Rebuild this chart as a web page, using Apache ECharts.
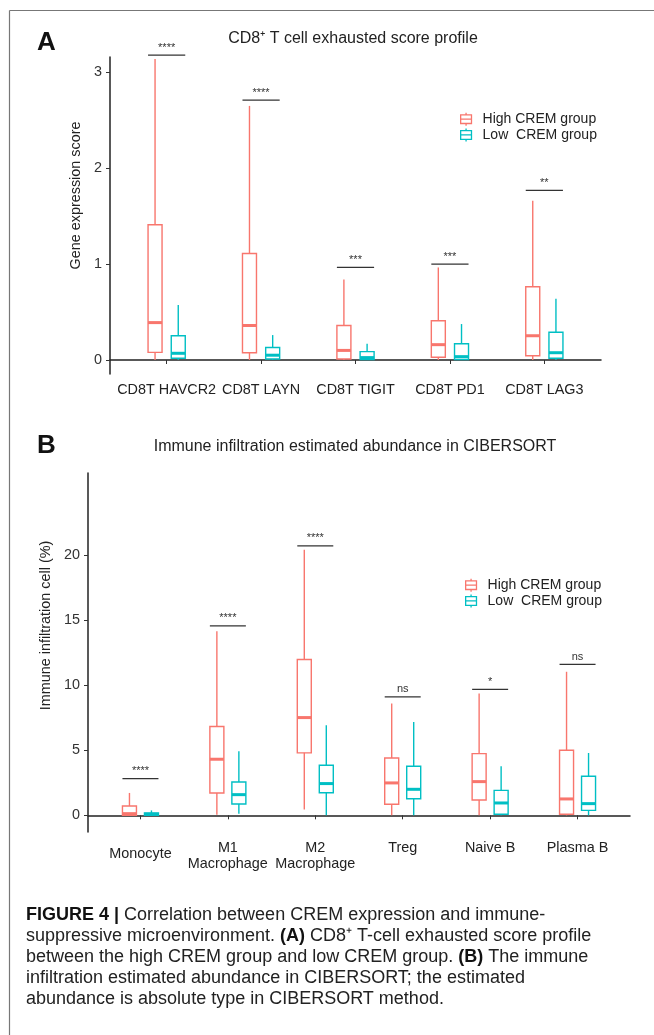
<!DOCTYPE html>
<html><head><meta charset="utf-8">
<script src="https://cdn.jsdelivr.net/npm/echarts@6/dist/echarts.min.js"></script>
<style>html,body{margin:0;padding:0;background:#fff}#c{width:654px;height:1035px}</style>
</head><body><div id="c"></div>
<script>
// ---------- data ----------
const catsA = ['CD8T HAVCR2', 'CD8T LAYN', 'CD8T TIGIT', 'CD8T PD1', 'CD8T LAG3'];
// [min, Q1, median, Q3, max]
const highA = [[0, 0.08, 0.39, 1.41, 3.14], [0, 0.076, 0.36, 1.11, 2.65], [0, 0.01, 0.10, 0.36, 0.84], [0, 0.028, 0.16, 0.41, 0.965], [0, 0.045, 0.253, 0.764, 1.66]];
const lowA = [[0, 0.018, 0.07, 0.253, 0.573], [0, 0.01, 0.05, 0.13, 0.26], [0, 0.005, 0.025, 0.087, 0.17], [0, 0.005, 0.035, 0.17, 0.375], [0, 0.018, 0.076, 0.29, 0.64]];
const sigA = [3.18, 2.71, 0.965, 1.0, 1.77];
const sigLabA = ['****', '****', '***', '***', '**'];
const yTicksA = [0, 1, 2, 3];

const catsB = ['Monocyte', 'M1\nMacrophage', 'M2\nMacrophage', 'Treg', 'Naive B', 'Plasma B'];
const highB = [[0, 0, 0.13, 0.72, 1.72], [0.05, 1.72, 4.31, 6.82, 14.15], [0.44, 4.8, 7.51, 11.97, 20.4], [0, 0.85, 2.49, 4.41, 8.59], [0, 1.18, 2.59, 4.74, 9.36], [0, 0.08, 1.26, 5.0, 11.03]];
const lowB = [[0, 0, 0.08, 0.18, 0.38], [0.13, 0.87, 1.59, 2.56, 4.92], [0, 1.74, 2.44, 3.85, 6.92], [0, 1.28, 2.0, 3.77, 7.18], [0, 0.08, 0.95, 1.92, 3.77], [0, 0.38, 0.9, 3.0, 4.79]];
const sigB = [2.82, 14.56, 20.7, 9.1, 9.67, 11.6];
const sigLabB = ['****', '****', '****', 'ns', '*', 'ns'];
const yTicksB = [0, 5, 10, 15, 20];

const seriesNames = ['High CREM group', 'Low  CREM group'];

// ---------- style ----------
const RED = '#F8766D', TEAL = '#00BFC4';
const FONT = 'Liberation Sans, Arial, sans-serif';
const BOX_W = 14;
const DODGE_A = 11.6, DODGE_B = 11;
const BOX_ICON = 'path://M5,0L5,2M0,2L10,2L10,10L0,10ZM0,6L10,6M5,10L5,12';
const AX_FS = 14.4;

function toRows(arr) { return arr.map((r, i) => [i + 1].concat(r)); }

function boxRender(dx, color) {
  return function (params, api) {
    const x = api.value(0);
    const pMin = api.coord([x, api.value(1)]);
    const pQ1 = api.coord([x, api.value(2)]);
    const pMed = api.coord([x, api.value(3)]);
    const pQ3 = api.coord([x, api.value(4)]);
    const pMax = api.coord([x, api.value(5)]);
    const cx = pMin[0] + dx, hw = BOX_W / 2;
    const ls = { stroke: color, lineWidth: 1.4, fill: null };
    return {
      type: 'group', children: [
        { type: 'line', shape: { x1: cx, y1: pMax[1], x2: cx, y2: pQ3[1] }, style: ls },
        { type: 'line', shape: { x1: cx, y1: pQ1[1], x2: cx, y2: pMin[1] }, style: ls },
        { type: 'rect', shape: { x: cx - hw, y: pQ3[1], width: 2 * hw, height: Math.max(pQ1[1] - pQ3[1], 0.5) }, style: { stroke: color, lineWidth: 1.4, fill: 'rgba(0,0,0,0)' } },
        { type: 'line', shape: { x1: cx - hw, y1: pMed[1], x2: cx + hw, y2: pMed[1] }, style: { stroke: color, lineWidth: 3 } }
      ]
    };
  };
}

function sigRender(labels, hw) {
  return function (params, api) {
    const p = api.coord([api.value(0), api.value(1)]);
    return {
      type: 'group', children: [
        { type: 'line', shape: { x1: p[0] - hw, y1: p[1], x2: p[0] + hw, y2: p[1] }, style: { stroke: '#333', lineWidth: 1.3 } },
        { type: 'text', style: { text: labels[params.dataIndex], x: p[0], y: p[1] - 2, align: 'center', verticalAlign: 'bottom', fontSize: 11, fill: '#333', fontFamily: FONT } }
      ]
    };
  };
}

function legendFor(top, left) {
  return {
    orient: 'vertical', left: left, top: top, itemWidth: 11, itemHeight: 13, itemGap: 1.5,
    textStyle: { fontSize: 14, color: '#222', fontFamily: FONT, padding: [0, 0, 0, 6] },
    data: [
      { name: seriesNames[0], icon: BOX_ICON, itemStyle: { color: 'rgba(0,0,0,0)', borderColor: RED, borderWidth: 1.3 } },
      { name: seriesNames[1], icon: BOX_ICON, itemStyle: { color: 'rgba(0,0,0,0)', borderColor: TEAL, borderWidth: 1.3 } }
    ]
  };
}

const axisLineStyle = { color: '#222', width: 1.5 };

const option = {
  animation: false,
  backgroundColor: '#fff',
  textStyle: { fontFamily: FONT },
  title: [
    { text: 'A', left: 32, top: 25, textStyle: { fontSize: 26, fontWeight: 'bold', color: '#111', fontFamily: FONT } },
    { text: 'CD8\u207A T cell exhausted score profile', left: 348, top: 26, textAlign: 'center', textStyle: { fontSize: 16, fontWeight: 'normal', color: '#222', fontFamily: FONT } },
    { text: 'B', left: 32, top: 428, textStyle: { fontSize: 26, fontWeight: 'bold', color: '#111', fontFamily: FONT } },
    { text: 'Immune infiltration estimated abundance in CIBERSORT', left: 350, top: 434, textAlign: 'center', textStyle: { fontSize: 16, fontWeight: 'normal', color: '#222', fontFamily: FONT } }
  ],
  legend: [legendFor(107, 455), legendFor(573, 460)],
  grid: [
    { left: 110, top: 57, width: 491, height: 317 },
    { left: 88, top: 473, width: 542, height: 359 }
  ],
  xAxis: [
    {
      gridIndex: 0, type: 'value', min: 0.4, max: catsA.length + 0.6,
      axisLine: { lineStyle: axisLineStyle }, splitLine: { show: false },
      axisTick: { customValues: catsA.map((c, i) => i + 1), length: 4, lineStyle: { color: '#333' } },
      axisLabel: { customValues: catsA.map((c, i) => i + 1), formatter: v => catsA[Math.round(v) - 1], fontSize: AX_FS, color: '#222', margin: 9 }
    },
    {
      gridIndex: 1, type: 'value', min: 0.4, max: catsB.length + 0.6,
      axisLine: { lineStyle: axisLineStyle }, splitLine: { show: false },
      axisTick: { customValues: catsB.map((c, i) => i + 1), length: 4, lineStyle: { color: '#333' } },
      axisLabel: {
        customValues: catsB.map((c, i) => i + 1), fontSize: AX_FS, color: '#222', margin: 8, lineHeight: 16,
        formatter: v => { const s = catsB[Math.round(v) - 1]; return s === 'Monocyte' ? '{d|' + s + '}' : s; },
        rich: { d: { lineHeight: 28, fontSize: AX_FS, color: '#222' } }
      }
    }
  ],
  yAxis: [
    {
      gridIndex: 0, type: 'value', min: -0.146, max: 3.16,
      name: 'Gene expression score', nameLocation: 'middle', nameGap: 21,
      nameTextStyle: { fontSize: AX_FS, color: '#222', padding: [0, 0, 0, 40] },
      axisLine: { show: true, lineStyle: axisLineStyle }, splitLine: { show: false },
      axisTick: { show: true, customValues: yTicksA, length: 4, lineStyle: { color: '#333' } },
      axisLabel: { customValues: yTicksA, fontSize: AX_FS, color: '#333', margin: 8 }
    },
    {
      gridIndex: 1, type: 'value', min: -1.28, max: 26.3,
      name: 'Immune infiltration cell (%)', nameLocation: 'middle', nameGap: 30,
      nameTextStyle: { fontSize: AX_FS, color: '#222', padding: [0, 0, 0, 54] },
      axisLine: { show: true, lineStyle: axisLineStyle }, splitLine: { show: false },
      axisTick: { show: true, customValues: yTicksB, length: 4, lineStyle: { color: '#333' } },
      axisLabel: { customValues: yTicksB, fontSize: AX_FS, color: '#333', margin: 8 }
    }
  ],
  series: [
    { name: seriesNames[0], type: 'custom', xAxisIndex: 0, yAxisIndex: 0, itemStyle: { color: RED }, renderItem: boxRender(-DODGE_A, RED), data: toRows(highA), encode: { x: 0, y: [1, 2, 3, 4, 5] } },
    { name: seriesNames[1], type: 'custom', xAxisIndex: 0, yAxisIndex: 0, itemStyle: { color: TEAL }, renderItem: boxRender(DODGE_A, TEAL), data: toRows(lowA), encode: { x: 0, y: [1, 2, 3, 4, 5] } },
    { type: 'custom', xAxisIndex: 0, yAxisIndex: 0, renderItem: sigRender(sigLabA, DODGE_A + BOX_W / 2), data: sigA.map((v, i) => [i + 1, v]), clip: false },
    { name: seriesNames[0], type: 'custom', xAxisIndex: 1, yAxisIndex: 1, itemStyle: { color: RED }, renderItem: boxRender(-DODGE_B, RED), data: toRows(highB), encode: { x: 0, y: [1, 2, 3, 4, 5] } },
    { name: seriesNames[1], type: 'custom', xAxisIndex: 1, yAxisIndex: 1, itemStyle: { color: TEAL }, renderItem: boxRender(DODGE_B, TEAL), data: toRows(lowB), encode: { x: 0, y: [1, 2, 3, 4, 5] } },
    { type: 'custom', xAxisIndex: 1, yAxisIndex: 1, renderItem: sigRender(sigLabB, DODGE_B + BOX_W / 2), data: sigB.map((v, i) => [i + 1, v]), clip: false }
  ],
  graphic: [
    { type: 'line', shape: { x1: 9.5, y1: 10.5, x2: 654, y2: 10.5 }, style: { stroke: '#777', lineWidth: 1.2 } },
    { type: 'line', shape: { x1: 9.5, y1: 10.5, x2: 9.5, y2: 1035 }, style: { stroke: '#777', lineWidth: 1.2 } },
    {
      type: 'text', left: 26, top: 905,
      style: {
        text: '{b|FIGURE 4 |} Correlation between CREM expression and immune-\nsuppressive microenvironment. {b|(A)} CD8\u207A T-cell exhausted score profile\nbetween the high CREM group and low CREM group. {b|(B)} The immune\ninfiltration estimated abundance in CIBERSORT; the estimated\nabundance is absolute type in CIBERSORT method.',
        fontSize: 18, lineHeight: 21, fill: '#222', fontFamily: FONT,
        rich: { b: { fontWeight: 'bold', fontSize: 18, lineHeight: 21, fill: '#111', fontFamily: FONT } }
      }
    }
  ]
};

const chart = echarts.init(document.getElementById('c'), null, { renderer: 'canvas' });
chart.setOption(option);
</script>
</body></html>
